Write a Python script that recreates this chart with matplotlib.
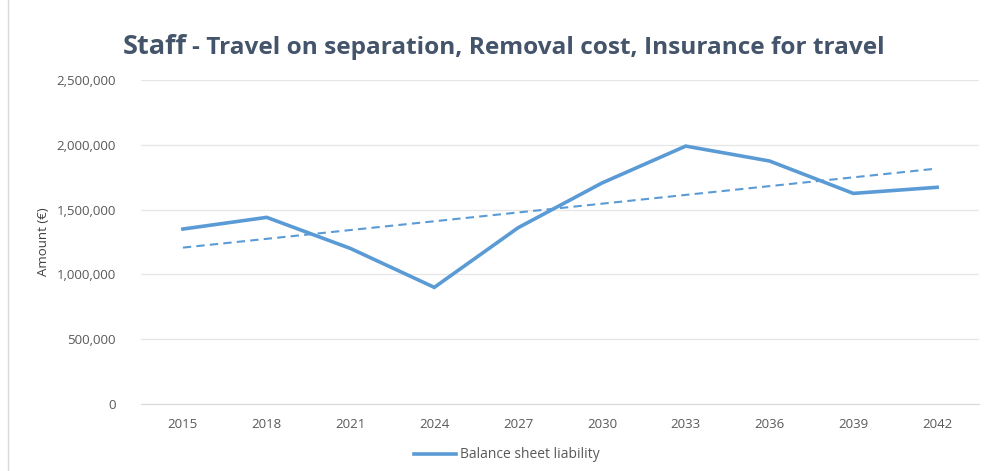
import numpy as np
import matplotlib
matplotlib.use("Agg")
import matplotlib.pyplot as plt
from matplotlib.ticker import FuncFormatter

years = ["2015", "2018", "2021", "2024", "2027", "2030", "2033", "2036", "2039", "2042"]
liability = [1350000, 1440000, 1200000, 900000, 1360000, 1705000, 1990000, 1875000, 1625000, 1672000]

plt.rcParams['font.family'] = ['Open Sans', 'DejaVu Sans']

W, H = 984, 471
fig = plt.figure(figsize=(W / 100, H / 100), dpi=100)
ax = fig.add_axes([141 / W, 67 / H, (979 - 141) / W, (404 - 80) / H])

x = np.arange(len(years))
color = "#5B9BD5"
ax.plot(x, liability, color=color, lw=2.6, solid_joinstyle='miter', label="Balance sheet liability", zorder=3)
coef = np.polyfit(x, liability, 1)
ax.plot(x, np.polyval(coef, x), color=color, lw=1.5, ls=(0, (4, 2.5)), zorder=2)

ax.set_xlim(-0.5, len(years) - 0.5)
ax.set_ylim(0, 2500000)
ax.set_yticks(np.arange(0, 2500001, 500000))
ax.yaxis.set_major_formatter(FuncFormatter(lambda v, p: f"{int(v):,}"))
ax.set_xticks(x)
ax.set_xticklabels(years)
ax.grid(axis='y', color="#E6E6E6", lw=0.9)
ax.set_axisbelow(True)
for s in ['top', 'right', 'left']:
    ax.spines[s].set_visible(False)
ax.spines['bottom'].set_color("#D9D9D9")
ax.tick_params(axis='both', length=0, colors="#595959", labelsize=9.5)
ax.tick_params(axis='y', pad=18)
ax.tick_params(axis='x', pad=10)
ax.set_ylabel("Amount (€)", color="#404040", fontsize=9.5)
ax.yaxis.set_label_coords(-(141 - 50) / (979 - 141), 0.5)

fig.text(187 / W, 1 - 54 / H, "Staff", ha='right', va='baseline', fontsize=19.5, fontweight='bold', color="#44546A")
fig.text(192 / W, 1 - 54 / H, "- Travel on separation, Removal cost, Insurance for travel", ha='left', va='baseline',
         fontsize=17.6, fontweight='bold', color="#44546A")

leg = fig.legend(loc='center', bbox_to_anchor=(507 / W, 1 - 455 / H), frameon=False, fontsize=10,
                 handlelength=3.0, handletextpad=0.3)
for t in leg.get_texts():
    t.set_color("#595959")

fig.add_artist(plt.Line2D([8 / W, 8 / W], [0, 1], color="#D9D9D9", lw=1))
fig.savefig("out.png", dpi=100)
